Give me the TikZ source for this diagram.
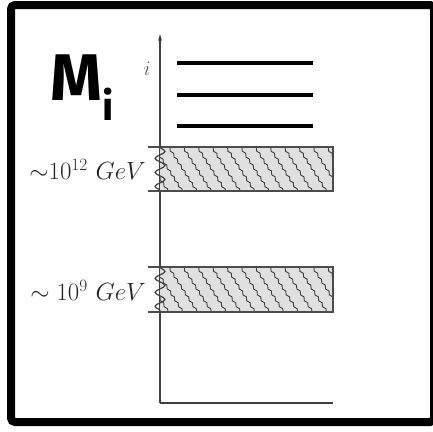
\documentclass[tikz,border=0pt]{standalone}
\usepackage{fontspec}
\newfontfamily\mfont{Fira Sans}
\usetikzlibrary{arrows.meta,decorations.pathmorphing}
\begin{document}
\begin{tikzpicture}[x=1pt,y=-1pt,
  frame/.style={line width=8pt,draw=black,rounded corners=4pt},
  axisline/.style={line width=1.6pt,draw=black!75},
  level/.style={line width=4.5pt,draw=black},
  bandline/.style={line width=1.3pt,draw=black!70},
  bandfill/.style={fill=black!12},
  hatch/.style={line width=0.9pt,draw=black!75,decorate,decoration={snake,amplitude=0.9pt,segment length=7pt}},
  wave/.style={line width=1.2pt,draw=black!75,decorate,decoration={snake,amplitude=5pt,segment length=14pt}},
  lab/.style={font=\fontsize{26}{28}\selectfont,anchor=east,text=black!85,inner sep=0pt},
  bigm/.style={anchor=base west,inner sep=0pt,font=\mfont\bfseries\fontsize{66}{70}\selectfont}]
\useasboundingbox (0,0) rectangle (433,431);
\draw[frame] (11,5) rectangle (434,422);
% M_i
\node[bigm] (M) at (50,100) {M\raisebox{-20pt}{\fontsize{40}{40}\selectfont i}};
% axes
\coordinate (o) at (160,403);
\coordinate (top) at (160,34);
\coordinate (xe) at (333,403);
\draw[axisline,-{Stealth[length=7pt,width=4pt]}] (o) -- (top);
\draw[axisline] (o) -- (xe);
\node[font=\fontsize{20}{20}\selectfont,text=black!65,inner sep=0pt] (il) at (147,69) {$i$};
% levels
\foreach \y in {63,95,126} \draw[level] (177,\y) -- (313,\y);
% bands
\foreach \t/\b in {147/191,267/312}{
  \fill[bandfill] (160,\t) rectangle (333,\b);
  \begin{scope}
    \clip (160,\t) rectangle (333,\b);
    \foreach \k in {-3,...,12}
      \draw[hatch] ({168+14.4*\k},\t-1) -- ++(30,47);
  \end{scope}
  \draw[bandline] (148,\t) -- (333,\t) -- (333,\b) -- (148,\b);
  \draw[wave] (160,\t) -- (160,\b);
}
\node[lab] (l12) at (146,169) {${\sim}10^{12}\ GeV$};
\node[lab] (l9) at (146,290) {$\sim 10^{9}\ GeV$};
\end{tikzpicture}
\end{document}
